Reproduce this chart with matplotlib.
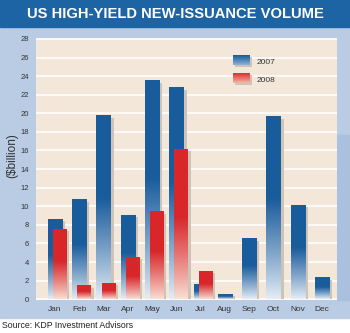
import numpy as np
import matplotlib
matplotlib.use('Agg')
import matplotlib.pyplot as plt
from matplotlib.patches import Rectangle
from matplotlib.colors import to_rgb

# monthly high-yield issuance, $bn
months = ['Jan', 'Feb', 'Mar', 'Apr', 'May', 'Jun', 'Jul', 'Aug', 'Sep', 'Oct', 'Nov', 'Dec']
vol_2007 = [8.6, 10.7, 19.7, 9.0, 23.5, 22.7, 1.6, 0.5, 6.5, 19.6, 10.1, 2.3]
vol_2008 = [7.5, 1.4, 1.7, 4.5, 9.4, 16.1, 3.0]
y_ticks = list(range(0, 29, 2))

W, H = 350, 333
BLUE, BLUE_PALE = '#1a5c9c', '#e4edf6'
RED, RED_PALE = '#d8262a', '#f8e0d4'
FONT = ['Liberation Sans', 'DejaVu Sans']


def fx(px):
    return px / W


def fy(py):
    return 1 - py / H


def gradient(top, pale, n=80, solid=0.55):
    # row 0 is the bottom of the bar
    t = np.linspace(0, 1, n)
    f = np.clip(t / solid, 0, 1) ** 0.9
    a, b = np.array(to_rgb(pale)), np.array(to_rgb(top))
    return (a + (b - a) * f[:, None])[:, None, :]


def bar(ax, x, w, h, top, pale, z):
    # soft shadow to the right, then the faded bar
    ax.add_patch(Rectangle((x - w / 2 + 0.13, 0), w, max(h - 0.2, 0.1),
                           color='#cdc3b6', zorder=z, lw=0))
    ax.imshow(gradient(top, pale), extent=(x - w / 2, x + w / 2, 0, h),
              origin='lower', aspect='auto', interpolation='bilinear', zorder=z + 1)


fig = plt.figure(figsize=(3.5, 3.33), dpi=100)
fig.patch.set_facecolor('white')

# background panels
fig.add_artist(Rectangle((0, fy(318)), 1, fy(27) - fy(318), transform=fig.transFigure,
                         color='#b9cce4', zorder=-2))
fig.add_artist(Rectangle((fx(337), fy(300)), fx(13), fy(135) - fy(300), transform=fig.transFigure,
                         color='#a9c0de', zorder=-2))
fig.add_artist(Rectangle((0, fy(27)), 1, 27 / H, transform=fig.transFigure,
                         color='#1d64a5', zorder=-2))
fig.text(0.502, fy(14), 'US HIGH-YIELD NEW-ISSUANCE VOLUME', color='white',
         fontsize=10.6, fontweight='bold', family=FONT, ha='center', va='center')

ax = fig.add_axes([fx(36), fy(300), fx(301), 262 / H])
ax.set_facecolor('#f3e7da')

x = np.arange(len(months))
for i, v in enumerate(vol_2007):
    bar(ax, x[i], 0.58, v, BLUE, BLUE_PALE, 2)
for i, v in enumerate(vol_2008):
    bar(ax, x[i] + 0.19, 0.54, v, RED, RED_PALE, 4)

ax.set_xlim(-0.78, 11.62)
ax.set_ylim(-0.08, 28.1)
ax.set_yticks(y_ticks)
ax.set_xticks(x)
ax.set_xticklabels(months, family=FONT)
ax.set_yticklabels([str(t) for t in y_ticks], family=FONT)
ax.grid(axis='y', color='white', lw=1.1)
ax.set_axisbelow(True)
ax.tick_params(length=0, labelsize=6, colors='#333333')
ax.tick_params(axis='y', pad=5, labelsize=5.5)
ax.tick_params(axis='x', pad=4.5)
for s in ax.spines.values():
    s.set_visible(False)

fig.text(fx(12.5), fy(156), '($billion)', rotation=90, fontsize=8.5, color='#333333',
         family=FONT, ha='center', va='center')

# legend swatches
for py, top, pale, label in [(55, BLUE, '#8fb2d6', '2007'), (73, RED, '#f2b9a8', '2008')]:
    fig.add_artist(Rectangle((fx(235), fy(py + 12)), fx(17), 10 / H, transform=fig.transFigure,
                             color='#cdc3b6', lw=0, zorder=1))
    lax = fig.add_axes([fx(233), fy(py + 10), fx(17), 10 / H])
    lax.set_zorder(3)
    lax.imshow(gradient(top, pale, 20, solid=1.0), origin='lower', aspect='auto',
               interpolation='bilinear')
    lax.axis('off')
    fig.text(fx(257), fy(py + 7), label, fontsize=6, color='#333333', family=FONT,
             va='center')

fig.text(fx(2), fy(325.5), 'Source: KDP Investment Advisors', fontsize=6.3, color='#222222',
         family=FONT, va='center')

fig.savefig('out.png', dpi=100, facecolor=fig.get_facecolor())
